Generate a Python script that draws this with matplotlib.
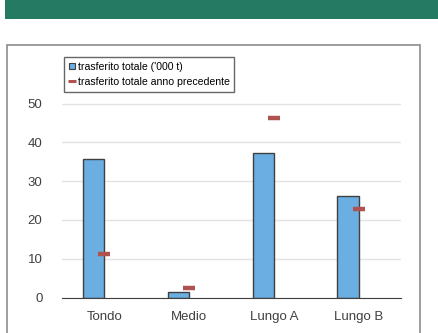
import matplotlib.pyplot as plt
from matplotlib.patches import Rectangle
from matplotlib.lines import Line2D

plt.rcParams['font.family'] = ['Liberation Sans', 'DejaVu Sans']

# data
categories = ['Tondo', 'Medio', 'Lungo A', 'Lungo B']
trasferito = [35.8, 1.4, 37.3, 26.2]
anno_prec = [11.2, 2.5, 46.3, 22.8]
yticks = [0, 10, 20, 30, 40, 50]

px = 1/100
fig = plt.figure(figsize=(439*px, 333*px), dpi=100)

# green banner and chart frame
fig.patches.append(Rectangle((5/439, 1-19/333), 1, 19/333, transform=fig.transFigure,
                             facecolor='#247a62', edgecolor='none', zorder=0))
fig.patches.append(Rectangle((7/439, -0.05), 413/439, 1.05-44.7/333, transform=fig.transFigure,
                             facecolor='white', edgecolor='#8c8c8c', lw=1.2, zorder=0))

ax = fig.add_axes([62/439, 1-297.5/333, 339/439, (297.5-72.5)/333])
ax.set_facecolor('none')
ax.set_zorder(2)

x = list(range(len(categories)))
ax.bar(x, trasferito, width=0.25, align='edge', color='#6aaee2', edgecolor='#404040', lw=1, zorder=3)
# bars sit left of the category centre
for b in ax.patches:
    b.set_x(b.get_x() - 0.25)
ax.plot(x, anno_prec, ls='none', marker='_', markersize=9, mew=3.2, color='#b0524f', zorder=4)

ax.set_xlim(-0.5, 3.5)
ax.set_ylim(0, 58)
ax.set_yticks(yticks)
ax.set_xticks(x)
ax.set_xticklabels(categories)
ax.grid(axis='y', color='#e3e3e3', lw=1, zorder=0)
for s in ['left', 'right', 'top']:
    ax.spines[s].set_visible(False)
ax.spines['bottom'].set_color('#404040')
ax.spines['bottom'].set_zorder(5)
ax.tick_params(axis='y', length=0, pad=14, labelsize=9.5, labelcolor='#404040')
ax.tick_params(axis='x', length=0, pad=10, labelsize=9.5, labelcolor='#404040')

handles = [Line2D([], [], ls='none', marker='s', markersize=5, markerfacecolor='#6aaee2',
                  markeredgecolor='#404040', mew=0.8),
           Line2D([], [], ls='none', marker='_', markersize=6, mew=2.2, color='#b0524f')]
leg = fig.legend(handles, ["trasferito totale ('000 t)", 'trasferito totale anno precedente'],
                 loc='upper left', bbox_to_anchor=(64/439, 1-57.3/333), fontsize=7.6,
                 frameon=True, fancybox=False, edgecolor='#404040', handlelength=0.6,
                 handletextpad=0.25, borderpad=0.45, labelspacing=0.45, borderaxespad=0)
leg.get_frame().set_linewidth(1)
leg.set_zorder(6)

plt.savefig('out.png', dpi=100)
